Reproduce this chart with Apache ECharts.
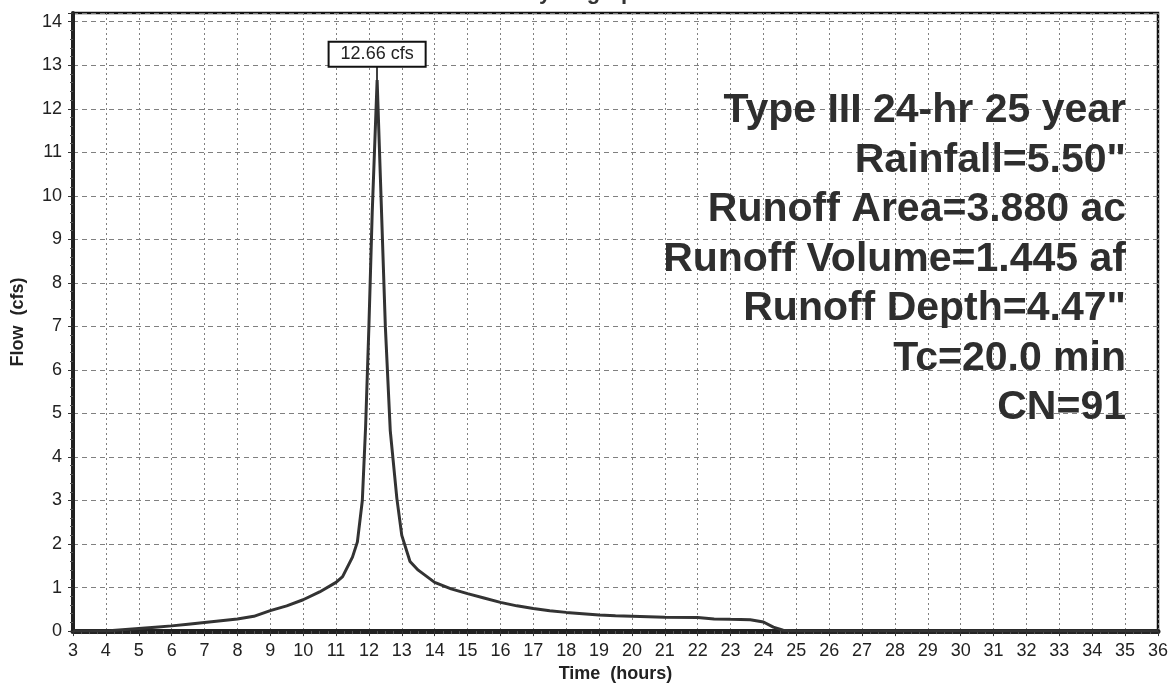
<!DOCTYPE html>
<html>
<head>
<meta charset="utf-8">
<script src="https://cdn.jsdelivr.net/npm/echarts@6/dist/echarts.min.js"></script>
<style>
html,body{margin:0;padding:0;background:#fff;}
#chart{width:1171px;height:688px;}
</style>
</head>
<body>
<div id="chart"></div>
<script>
// Time (hours)
const times = [3.0, 4.0, 4.5, 5.0, 5.5, 6.0, 6.5, 7.0, 7.5, 8.0, 8.5, 9.0, 9.5, 10.0, 10.5, 11.0, 11.2, 11.5, 11.65, 11.8, 11.9, 12.0, 12.1, 12.25, 12.35, 12.5, 12.65, 12.85, 13.0, 13.25, 13.5, 14.0, 14.5, 15.0, 15.5, 16.0, 16.5, 17.0, 17.5, 18.0, 18.5, 19.0, 19.5, 20.0, 21.0, 22.0, 22.5, 23.0, 23.6, 24.0, 24.3, 24.6, 25.0, 36.0];
// Flow (cfs)
const flows = [0, 0, 0.03, 0.06, 0.09, 0.12, 0.16, 0.20, 0.24, 0.28, 0.34, 0.47, 0.58, 0.72, 0.90, 1.12, 1.25, 1.70, 2.05, 3.0, 4.7, 7.0, 9.6, 12.66, 10.4, 7.0, 4.6, 3.05, 2.2, 1.6, 1.4, 1.12, 0.97, 0.86, 0.76, 0.66, 0.58, 0.52, 0.47, 0.43, 0.40, 0.37, 0.35, 0.34, 0.32, 0.31, 0.28, 0.27, 0.26, 0.21, 0.09, 0.02, 0, 0];
const infoLines = ['Type III 24-hr 25 year', 'Rainfall=5.50"', 'Runoff Area=3.880 ac', 'Runoff Volume=1.445 af', 'Runoff Depth=4.47"', 'Tc=20.0 min', 'CN=91'];
const chartTitle = 'Hydrograph';
const xName = 'Time  (hours)';
const yName = 'Flow  (cfs)';

const seriesData = times.map((t, i) => [t, flows[i]]);
const peakIdx = flows.indexOf(Math.max.apply(null, flows));
const peakT = times[peakIdx];
const peakV = flows[peakIdx];

const chart = echarts.init(document.getElementById('chart'));
const FONT = '"Liberation Sans", Arial, sans-serif';
chart.setOption({
  animation: false,
  backgroundColor: '#fff',
  title: {
    text: chartTitle,
    left: 'center',
    top: -23,
    textStyle: {fontFamily: FONT, fontSize: 22, fontWeight: 'bold', color: '#333'}
  },
  grid: {left: 73, right: 11, top: 13, bottom: 51, show: true, borderColor: '#111', borderWidth: 2.5, backgroundColor: 'transparent'},
  xAxis: {
    type: 'value', min: 3, max: 36, interval: 1,
    name: xName, nameLocation: 'middle', nameGap: 33,
    nameTextStyle: {fontFamily: FONT, fontSize: 18, fontWeight: 'bold', color: '#222'},
    axisLine: {show: true, onZero: false, lineStyle: {color: '#222', width: 5}},
    axisTick: {show: true, length: 5, lineStyle: {color: '#333', width: 1}},
    minorTick: {show: true, splitNumber: 4, length: 3, lineStyle: {color: '#555', width: 1}},
    axisLabel: {margin: 11, fontFamily: FONT, fontSize: 18, color: '#222'},
    splitLine: {show: true, lineStyle: {color: '#808080', width: 1, type: [2, 3]}}
  },
  yAxis: {
    type: 'value', min: 0, max: 14.2, interval: 1,
    name: yName, nameLocation: 'middle', nameGap: 46, nameRotate: 90,
    nameTextStyle: {fontFamily: FONT, fontSize: 18, fontWeight: 'bold', color: '#222'},
    axisLine: {show: true, onZero: false, lineStyle: {color: '#222', width: 4}},
    axisTick: {show: true, length: 5, lineStyle: {color: '#333', width: 1}},
    minorTick: {show: true, splitNumber: 5, length: 3, lineStyle: {color: '#555', width: 1}},
    axisLabel: {margin: 11, fontFamily: FONT, fontSize: 18, color: '#222',
      formatter: v => (Math.abs(v - Math.round(v)) < 1e-9 ? String(Math.round(v)) : '')},
    splitLine: {show: true, lineStyle: {color: '#808080', width: 1, type: [5, 4]}}
  },
  series: [{
    type: 'line',
    data: seriesData,
    showSymbol: false,
    symbol: 'none',
    smooth: false,
    lineStyle: {color: '#333', width: 3},
    z: 5,
    markLine: {
      silent: true, symbol: 'none', animation: false,
      label: {show: false},
      lineStyle: {color: '#000', width: 1.5, type: 'solid'},
      data: [[{coord: [peakT, peakV]}, {coord: [peakT, 12.98]}]]
    },
    markPoint: {
      silent: true, animation: false,
      symbol: 'rect', symbolSize: [1, 1],
      itemStyle: {color: 'rgba(0,0,0,0)'},
      label: {
        show: true, position: 'inside',
        formatter: () => peakV.toFixed(2) + ' cfs',
        fontFamily: FONT, fontSize: 18, color: '#222',
        backgroundColor: '#fff', borderColor: '#111', borderWidth: 2,
        padding: [3, 11, 2, 11]
      },
      data: [{coord: [peakT, 13.25], value: peakV}]
    }
  }],
  graphic: [{
    type: 'text', x: 1126, y: 86, z: 10, silent: true,
    style: {
      text: infoLines.join('\n'),
      font: 'bold 41px ' + FONT,
      fontSize: 41, fontWeight: 'bold', fontFamily: FONT,
      lineHeight: 49.5,
      textAlign: 'right', align: 'right',
      textVerticalAlign: 'top', verticalAlign: 'top',
      fill: '#2e2e2e'
    }
  }]
});
</script>
</body>
</html>
